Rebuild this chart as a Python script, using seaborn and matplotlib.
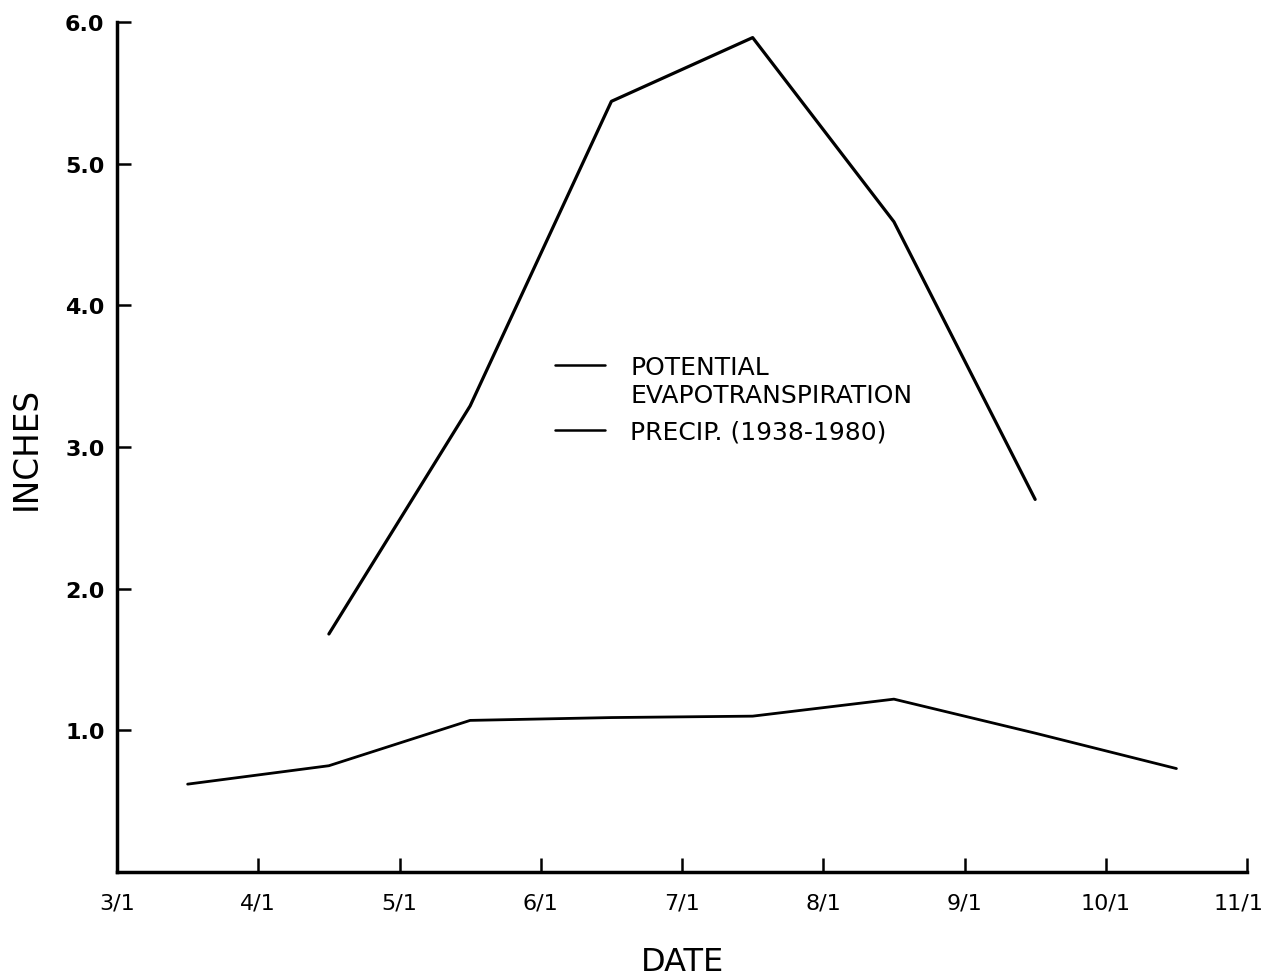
import matplotlib
matplotlib.use("Agg")
import matplotlib.pyplot as plt
import matplotlib.transforms as mtransforms
import seaborn as sns
import pandas as pd

# ---- data (x = months after 3/1; points plotted at mid-month) ----
tick_labels = ["3/1", "4/1", "5/1", "6/1", "7/1", "8/1", "9/1", "10/1", "11/1"]
y_tick_values = [1.0, 2.0, 3.0, 4.0, 5.0, 6.0]

pet_months = [1.5, 2.5, 3.5, 4.5, 5.5, 6.5]          # 4/15 .. 9/15
pet_values = [1.68, 3.29, 5.44, 5.89, 4.59, 2.63]

precip_months = [0.5, 1.5, 2.5, 3.5, 4.5, 5.5, 6.5, 7.5]   # 3/15 .. 10/15
precip_values = [0.62, 0.75, 1.07, 1.09, 1.10, 1.22, 0.98, 0.73]

pet_label = "POTENTIAL"
pet_label2 = "EVAPOTRANSPIRATION"
precip_label = "PRECIP. (1938-1980)"

sns.set_theme(style="ticks")
plt.rcParams["font.family"] = ["DejaVu Sans"]
plt.rcParams["text.color"] = "black"
plt.rcParams["axes.labelcolor"] = "black"
plt.rcParams["xtick.color"] = "black"
plt.rcParams["ytick.color"] = "black"

fig = plt.figure(figsize=(12.69, 9.79), dpi=100)
ax = fig.add_axes([0.0922, 0.1083, 0.9827 - 0.0922, 0.9765 - 0.1083])

pet_df = pd.DataFrame({"month": pet_months, "inches": pet_values})
pr_df = pd.DataFrame({"month": precip_months, "inches": precip_values})

sns.lineplot(data=pet_df, x="month", y="inches", ax=ax, color="black",
             linewidth=2.3, label=pet_label)
sns.lineplot(data=pr_df, x="month", y="inches", ax=ax, color="black",
             linewidth=2.0, label=precip_label)

ax.set_xlim(0, 8)
ax.set_ylim(0, 6)
ax.set_xticks(range(len(tick_labels)))
ax.set_xticklabels(tick_labels, fontsize=16)
ax.set_yticks(y_tick_values)
ax.set_yticklabels([f"{v:.1f}" for v in y_tick_values], fontsize=16, fontweight="bold")

for s in ["top", "right"]:
    ax.spines[s].set_visible(False)
for s in ["left", "bottom"]:
    ax.spines[s].set_linewidth(2.5)
    ax.spines[s].set_color("black")

ax.tick_params(axis="both", direction="in", length=10, width=1.8, color="black",
               bottom=True, left=True, labelcolor="black")
ax.tick_params(axis="x", pad=15)
ax.tick_params(axis="y", pad=9)

ax.set_xlabel("DATE", fontsize=23, labelpad=24, color="black")
ax.set_ylabel("INCHES", fontsize=23.5, labelpad=16, color="black")

leg = ax.legend(loc="upper left", bbox_to_anchor=(0.3876, 0.608), frameon=False,
                fontsize=18, handlelength=2.0, handletextpad=1.0,
                labelspacing=1.62, borderpad=0, borderaxespad=0)
for line in leg.get_lines():
    line.set_linewidth(1.8)
for t in leg.get_texts():
    t.set_color("black")

fig.canvas.draw()

# nudge the last date label left so it stays inside the figure
last = ax.xaxis.get_major_ticks()[-1].label1
last.set_transform(last.get_transform() +
                   mtransforms.ScaledTranslation(-9 / 100, 0, fig.dpi_scale_trans))

ax.annotate(pet_label2, xy=(0, 0), xycoords=leg.texts[0],
            xytext=(0, -4), textcoords="offset pixels",
            ha="left", va="top", fontsize=18, color="black", zorder=10)

fig.savefig("out.png", dpi=100, facecolor="white")
